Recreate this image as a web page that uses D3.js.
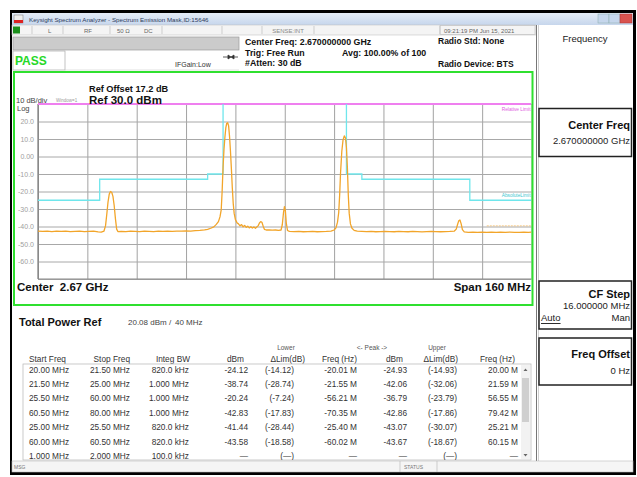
<!DOCTYPE html>
<html><head><meta charset="utf-8">
<script src="https://cdn.jsdelivr.net/npm/d3@7"></script>
<style>
html,body{margin:0;padding:0;background:#fff;}
svg{display:block;font-family:"Liberation Sans",Arial,sans-serif;}
</style></head>
<body>
<svg id="c" width="637" height="477"></svg>
<script>
// ---------- DATA ----------
const traceFreq = [-80,-78.5,-77,-75.5,-74,-72.5,-71,-69.5,-68,-66.5,-65,-63.5,-62,-60.5,-59.5,-58.6,
 -58.1,-57.7,-57.3,-56.9,-56.5,-56.1,-55.7,-55.3,-54.9,-54.5,-54.1,
 -53,-51.5,-50,-48.5,-47,-45.5,-44,-42.5,-41,-39.5,-38,-36.5,-35,-33.5,-32,-30.5,-29,-27.5,-26,-25,-24,-23,-22.2,-21.5,-21.0,-20.6,
 -20.3,-20.0,-19.7,-19.4,-19.1,-18.8,-18.5,-18.2,-17.9,-17.6,-17.3,-17.0,-16.7,-16.4,-16.0,
 -15.5,-15.0,-14.5,-14.0,-13.5,-13.0,-12.5,-12.0,-11.5,-11.0,-10.5,-10.0,-9.5,-9.0,-8.6,-8.2,-7.8,-7.4,-7.0,-6.6,
 -6.0,-5.0,-4.0,-3.0,-2.0,-1.2,-0.8,-0.4,-0.1,0.2,0.5,0.9,
 1.5,3.0,4.5,6.0,7.5,9.0,10.5,12.0,13.5,15.0,16.0,16.6,17.1,17.5,17.8,18.1,18.5,18.9,19.3,19.7,20.0,20.3,20.6,20.9,21.3,21.8,22.5,23.5,
 25,26.5,28,29.5,31,32.5,34,35.5,37,38.5,40,41.5,43,44.5,46,47.5,49,50.5,52,53.5,55,55.6,56.0,56.4,56.8,57.2,57.6,58.2,
 59.5,61,62.5,64,65.5,67,68.5,70,71.5,73,74.5,76,77.5,79,80];
const traceDbm = [-42.6,-42.8,-42.7,-42.9,-42.7,-42.8,-42.6,-42.9,-42.8,-42.7,-42.9,-42.8,-42.7,-43.1,-43.2,-42.6,
 -39.5,-33,-26,-21.5,-20.0,-20.4,-22.8,-28,-35.5,-41.5,-42.9,
 -42.8,-42.9,-42.7,-42.8,-42.9,-42.7,-42.8,-42.9,-42.7,-42.8,-42.6,-42.8,-42.7,-42.6,-42.5,-42.6,-42.3,-42.2,-41.9,-41.6,-41.0,-40.2,-38.8,-37.2,-34.5,-30.5,
 -20,-6,4,11,16.5,19.0,19.3,17.5,11.5,3,-7,-18,-27,-32.5,-36,
 -37.8,-38.5,-39.6,-38.9,-40.2,-39.4,-40.5,-39.8,-40.8,-40.1,-40.9,-40.3,-41.0,-40.2,-39.5,-38.0,-37.2,-37.6,-39.8,-41.6,
 -42.0,-41.9,-42.1,-42.0,-42.2,-42.0,-39,-32,-28.6,-31,-38,-42.3,
 -42.8,-42.9,-42.8,-43.0,-42.9,-42.8,-43.0,-42.9,-42.8,-42.6,-42.0,-40.8,-37.5,-32,-22,-9,3,9.5,11.8,10.5,5,-6,-22,-32.5,-38.5,-41,-42.2,-42.7,
 -42.8,-42.9,-42.8,-43.0,-42.9,-42.8,-42.9,-43.0,-42.8,-42.9,-43.0,-42.8,-42.9,-43.1,-42.9,-42.8,-42.9,-43.0,-42.9,-42.8,-42.6,-41.5,-39,-36.8,-36.3,-38.5,-41.8,-43.1,
 -43.3,-43.2,-43.3,-43.2,-43.4,-43.2,-43.3,-43.2,-43.3,-43.2,-43.4,-43.3,-43.2,-43.3,-43.2];

const maskLowFreq = [-80,-60,-60,-25,-25,-20,-20];
const maskLowDbm  = [-25,-25,-13,-13,-10,-10,30];
const maskHighFreq = [20,20,25,25,60,60,80];
const maskHighDbm  = [30,-10,-10,-13,-13,-25,-25];
const relLimitFreq = [-80,80];
const relLimitDbm = [30,30];
const traceTagFreq = [65.5,80];
const traceTagDbm = [-39.6,-39.6];

const xGridTicks = [-80,-64,-48,-32,-16,0,16,32,48,64,80];
const yGridTicks = [30,20,10,0,-10,-20,-30,-40,-50,-60,-70];
const yTickLabels = ["","20.0","10.0","0.00","-10.0","-20.0","-30.0","-40.0","-50.0","-60.0",""];

const startFreq = ["20.00 MHz","21.50 MHz","25.50 MHz","60.50 MHz","25.00 MHz","60.00 MHz","1.000 MHz"];
const stopFreq  = ["21.50 MHz","25.00 MHz","60.00 MHz","80.00 MHz","25.50 MHz","60.50 MHz","2.000 MHz"];
const integBW   = ["820.0 kHz","1.000 MHz","1.000 MHz","1.000 MHz","820.0 kHz","820.0 kHz","100.0 kHz"];
const lowerDbm  = ["-24.12","-38.74","-20.24","-42.83","-41.44","-43.58","—"];
const lowerDelta= ["(-14.12)","(-28.74)","(-7.24)","(-17.83)","(-28.44)","(-18.58)","(—)"];
const lowerFreq = ["-20.01 M","-21.55 M","-56.21 M","-70.35 M","-25.40 M","-60.02 M","—"];
const upperDbm  = ["-24.93","-42.06","-36.79","-42.86","-43.07","-43.67","—"];
const upperDelta= ["(-14.93)","(-32.06)","(-23.79)","(-17.86)","(-30.07)","(-18.67)","(—)"];
const upperFreq = ["20.00 M","21.59 M","56.55 M","79.42 M","25.21 M","60.15 M","—"];

// ---------- DRAW ----------
const svg = d3.select("#c");
const T = (x,y,s,opt={})=>{
  const t = svg.append("text").attr("x",x).attr("y",y).attr("dominant-baseline","central")
    .attr("font-size",opt.size||8).attr("fill",opt.fill||"#111")
    .attr("font-weight",opt.bold?"bold":"normal").attr("text-anchor",opt.anchor||"start")
    .text(s);
  if(opt.under) t.attr("text-decoration","underline");
  if(opt.pre) t.attr("xml:space","preserve").style("white-space","pre");
  return t;
};

// window frame
svg.append("rect").attr("x",10).attr("y",10).attr("width",626).attr("height",465).attr("fill","#000");
svg.append("rect").attr("x",12).attr("y",13).attr("width",621).attr("height",459).attr("fill","#fff");

// title bar
const grad = svg.append("defs").append("linearGradient").attr("id","tb").attr("x1",0).attr("x2",0).attr("y1",0).attr("y2",1);
grad.append("stop").attr("offset","0").attr("stop-color","#e4ecf7");
grad.append("stop").attr("offset","1").attr("stop-color","#c6d6ec");
svg.append("rect").attr("x",12).attr("y",13).attr("width",621).attr("height",12).attr("fill","url(#tb)");
svg.append("rect").attr("x",14).attr("y",15).attr("width",9).attr("height",8).attr("fill","#eee").attr("stroke","#777").attr("stroke-width",0.5);
svg.append("rect").attr("x",14).attr("y",20).attr("width",9).attr("height",3).attr("fill","#d22");
T(29,19,"Keysight Spectrum Analyzer - Spectrum Emission Mask,ID:15646",{size:6.2,fill:"#2d3b5c"});
// window buttons
svg.append("rect").attr("x",598).attr("y",14).attr("width",11).attr("height",9).attr("fill","#c5d6ec").attr("stroke","#8aa").attr("stroke-width",0.5);
svg.append("rect").attr("x",609).attr("y",14).attr("width",11).attr("height",9).attr("fill","#c5d6ec").attr("stroke","#8aa").attr("stroke-width",0.5);
svg.append("rect").attr("x",620).attr("y",14).attr("width",12).attr("height",9).attr("fill","#d9534f").attr("stroke","#a33").attr("stroke-width",0.5);

// status row
svg.append("rect").attr("x",12).attr("y",25).attr("width",524).attr("height",10).attr("fill","#f4f4f4").attr("stroke","#bbb").attr("stroke-width",0.5);
svg.append("rect").attr("x",13).attr("y",26.5).attr("width",7).attr("height",7).attr("fill","#1b8f1b");
[32,63,110,162,222,262,314,440].forEach(x=>svg.append("line").attr("x1",x).attr("x2",x).attr("y1",26).attr("y2",34).attr("stroke","#bbb").attr("stroke-width",0.7));
T(48,30.5,"L",{size:6,fill:"#666"});
T(84,30.5,"RF",{size:6,fill:"#666"});
T(117,30.5,"50 Ω",{size:6,fill:"#666"});
T(144,30.5,"DC",{size:6,fill:"#666"});
T(288,30.5,"SENSE:INT",{size:6,fill:"#888",anchor:"middle"});
T(444,30.5,"09:21:19 PM Jun 15, 2021",{size:6,fill:"#666"});
svg.append("rect").attr("x",440).attr("y",25.5).attr("width",95).attr("height",9).attr("fill","none").attr("stroke","#bbb").attr("stroke-width",0.6);

// info block
svg.append("rect").attr("x",13).attr("y",37).attr("width",226).attr("height",13).attr("fill","#cbcbcb").attr("stroke","#9a9a9a").attr("stroke-width",0.7);
svg.append("rect").attr("x",13).attr("y",51).attr("width",52).attr("height",19).attr("fill","#fff").attr("stroke","#aaa").attr("stroke-width",0.7);
svg.append("line").attr("x1",65).attr("x2",239).attr("y1",70).attr("y2",70).attr("stroke","#ccc").attr("stroke-width",0.6);
T(15,60.5,"PASS",{size:12,bold:true,fill:"#27d827"});
T(175,64,"IFGain:Low",{size:7,fill:"#333"});
svg.append("path").attr("d","M223,57 h5 M228,55 l3,2 l-3,2 z M238,57 h-4 M234,55 l-3,2 l3,2 z").attr("stroke","#333").attr("stroke-width",0.8).attr("fill","#333");
T(245,41.5,"Center Freq: 2.670000000 GHz",{size:8.8,bold:true});
T(245,52.5,"Trig: Free Run",{size:8.8,bold:true});
T(245,62.5,"#Atten: 30 dB",{size:8.8,bold:true});
T(342,52.5,"Avg: 100.00% of 100",{size:8.8,bold:true});
T(438,40.5,"Radio Std: None",{size:8.5,bold:true});
T(438,64,"Radio Device: BTS",{size:8.5,bold:true});

// right softkey panel
svg.append("line").attr("x1",536.5).attr("x2",536.5).attr("y1",25).attr("y2",461).attr("stroke","#777").attr("stroke-width",1);
svg.append("line").attr("x1",538.5).attr("x2",538.5).attr("y1",25).attr("y2",461).attr("stroke","#bbb").attr("stroke-width",0.7);
T(585,38,"Frequency",{size:9.5,anchor:"middle",fill:"#222"});
const box=(y,h)=>svg.append("rect").attr("x",539).attr("y",y).attr("width",92.5).attr("height",h).attr("fill","#fff").attr("stroke","#222").attr("stroke-width",1.5);
box(108.5,48); box(281,48); box(338,47);
T(630,125,"Center Freq",{size:11,bold:true,anchor:"end"});
T(630,140.5,"2.670000000 GHz",{size:9.5,anchor:"end",fill:"#222"});
T(630,293.5,"CF Step",{size:11,bold:true,anchor:"end"});
T(630,305,"16.000000 MHz",{size:9.5,anchor:"end",fill:"#222"});
T(541,317.5,"Auto",{size:9.5,under:true,fill:"#222"});
T(630,317.5,"Man",{size:9.5,anchor:"end",fill:"#222"});
T(630,354,"Freq Offset",{size:11,bold:true,anchor:"end"});
T(630,370,"0 Hz",{size:9.5,anchor:"end",fill:"#222"});

// spectrum panel
const X0=38, X1=531.5, Y0=104, Y1=279;
const x = d3.scaleLinear().domain([-80,80]).range([X0,X1]);
const y = d3.scaleLinear().domain([-70,30]).range([Y1,Y0]);

svg.append("rect").attr("x",14).attr("y",72).attr("width",518.5).attr("height",233).attr("fill","#fff");

// grids through axes
svg.append("g").attr("transform",`translate(0,${Y1})`)
  .call(d3.axisBottom(x).tickValues(xGridTicks).tickSize(-(Y1-Y0)).tickFormat(""))
  .call(g=>{g.select(".domain").remove(); g.selectAll("line").attr("stroke","#a2a2a2").attr("stroke-width",1);});
svg.append("g").attr("transform",`translate(${X0},0)`)
  .call(d3.axisLeft(y).tickValues(yGridTicks).tickSize(-(X1-X0)).tickPadding(4).tickFormat((d,i)=>yTickLabels[i]))
  .call(g=>{g.select(".domain").remove();
    g.selectAll("line").attr("stroke","#a8a8a8").attr("stroke-width",1);
    g.selectAll("text").attr("font-size",7).attr("fill","#a0a0a0").attr("font-family","Liberation Sans, Arial, sans-serif");});
svg.append("line").attr("x1",X0).attr("x2",X0).attr("y1",Y0).attr("y2",Y1).attr("stroke","#7a7a7a").attr("stroke-width",1.2);
svg.append("line").attr("x1",X0).attr("x2",X1).attr("y1",Y1).attr("y2",Y1).attr("stroke","#8a8a8a").attr("stroke-width",1.2);

svg.append("clipPath").attr("id","plotclip").append("rect").attr("x",X0).attr("y",Y0-2).attr("width",X1-X0).attr("height",Y1-Y0+2);
const plot = svg.append("g").attr("clip-path","url(#plotclip)");
const line = d3.line().x(d=>x(d[0])).y(d=>y(d[1]));

plot.append("path").datum(relLimitFreq.map((f,i)=>[f,relLimitDbm[i]]))
  .attr("d",line).attr("fill","none").attr("stroke","#ef7fef").attr("stroke-width",2.2);
[[maskLowFreq,maskLowDbm],[maskHighFreq,maskHighDbm]].forEach(([fs,vs])=>{
  plot.append("path").datum(fs.map((f,i)=>[f,vs[i]])).attr("d",line)
    .attr("fill","none").attr("stroke","#6fe6ec").attr("stroke-width",1.3);
});
plot.append("path").datum(traceTagFreq.map((f,i)=>[f,traceTagDbm[i]])).attr("d",line)
  .attr("fill","none").attr("stroke","#f3b04a").attr("stroke-width",0.8).attr("stroke-dasharray","2,1").attr("opacity",0.8);
plot.append("path").datum(traceFreq.map((f,i)=>[f,traceDbm[i]])).attr("d",line)
  .attr("fill","none").attr("stroke","#f2a52a").attr("stroke-width",1.3).attr("stroke-linejoin","round");

T(x(80)-1,y(30)+5,"Relative Limit",{size:4.8,fill:"#e05ce0",anchor:"end"});
T(x(80)-1,y(-25)-5,"AbsoluteLimit",{size:4.8,fill:"#3cc8d0",anchor:"end"});

// green border
svg.append("rect").attr("x",14).attr("y",72).attr("width",518.5).attr("height",233).attr("fill","none").attr("stroke","#2fe02f").attr("stroke-width",2);

T(89,88.5,"Ref Offset 17.2 dB",{size:9.2,bold:true});
T(89,99.5,"Ref 30.0 dBm",{size:11.5,bold:true});
T(16,100.5,"10 dB/div",{size:7.5,fill:"#444"});
T(56,100,"Window=1",{size:4.5,fill:"#999"});
T(17,108.5,"Log",{size:7.5,fill:"#444"});
T(17,287,"Center  2.67 GHz",{size:11.5,bold:true,pre:true});
T(531,287,"Span 160 MHz",{size:11.5,bold:true,anchor:"end"});

// table block
T(19,321.5,"Total Power Ref",{size:11,bold:true});
T(128,322,"20.08 dBm /",{size:8,fill:"#444"});
T(175,322,"40 MHz",{size:8,fill:"#444"});

T(286,347.5,"Lower",{size:6.5,fill:"#555",anchor:"middle"});
T(372,347.5,"<- Peak ->",{size:6.5,fill:"#555",anchor:"middle"});
T(437,347.5,"Upper",{size:6.5,fill:"#555",anchor:"middle"});
const hy=358.5, hs={size:8.3,fill:"#333"};
T(29,hy,"Start Freq",hs);
T(130,hy,"Stop Freq",{...hs,anchor:"end"});
T(190,hy,"Integ BW",{...hs,anchor:"end"});
T(244,hy,"dBm",{...hs,anchor:"end"});
T(305,hy,"ΔLim(dB)",{...hs,anchor:"end"});
T(357,hy,"Freq (Hz)",{...hs,anchor:"end"});
T(403,hy,"dBm",{...hs,anchor:"end"});
T(458,hy,"ΔLim(dB)",{...hs,anchor:"end"});
T(515,hy,"Freq (Hz)",{...hs,anchor:"end"});

svg.append("rect").attr("x",23).attr("y",364).attr("width",508).attr("height",96).attr("fill","#fff").attr("stroke","#bdbdbd").attr("stroke-width",0.8);
svg.append("clipPath").attr("id","tclip").append("rect").attr("x",23).attr("y",364).attr("width",508).attr("height",96);
const tg = svg.append("g").attr("clip-path","url(#tclip)");
const rowY = d3.scaleLinear().domain([0,6]).range([369.5,456]);
const cols = [[startFreq,29,"start"],[stopFreq,130,"end"],[integBW,189,"end"],[lowerDbm,248,"end"],[lowerDelta,294,"end"],
  [lowerFreq,357,"end"],[upperDbm,407,"end"],[upperDelta,457,"end"],[upperFreq,518,"end"]];
cols.forEach(([arr,cx,anc])=>{
  tg.selectAll(null).data(arr).join("text").attr("x",cx).attr("y",(d,i)=>rowY(i)).attr("dominant-baseline","central")
    .attr("text-anchor",anc).attr("font-size",8.3).attr("fill","#333").text(d=>d);
});
// scrollbar
svg.append("rect").attr("x",521).attr("y",365).attr("width",9).attr("height",94).attr("fill","#f2f2f2");
svg.append("rect").attr("x",522).attr("y",378).attr("width",7).attr("height",44).attr("fill","#cfcfcf");
svg.append("path").attr("d","M523.5,371 l2,-2.5 l2,2.5 z M523.5,454 l2,2.5 l2,-2.5 z").attr("fill","#666");

// bottom status bar
svg.append("rect").attr("x",12).attr("y",461).attr("width",621).attr("height",11).attr("fill","#f5f5f5").attr("stroke","#bbb").attr("stroke-width",0.6);
[400,437].forEach(xx=>svg.append("line").attr("x1",xx).attr("x2",xx).attr("y1",461).attr("y2",472).attr("stroke","#bbb").attr("stroke-width",0.7));
T(14,467,"MSG",{size:5,fill:"#777"});
T(404,467,"STATUS",{size:5,fill:"#777"});
</script>
</body></html>
